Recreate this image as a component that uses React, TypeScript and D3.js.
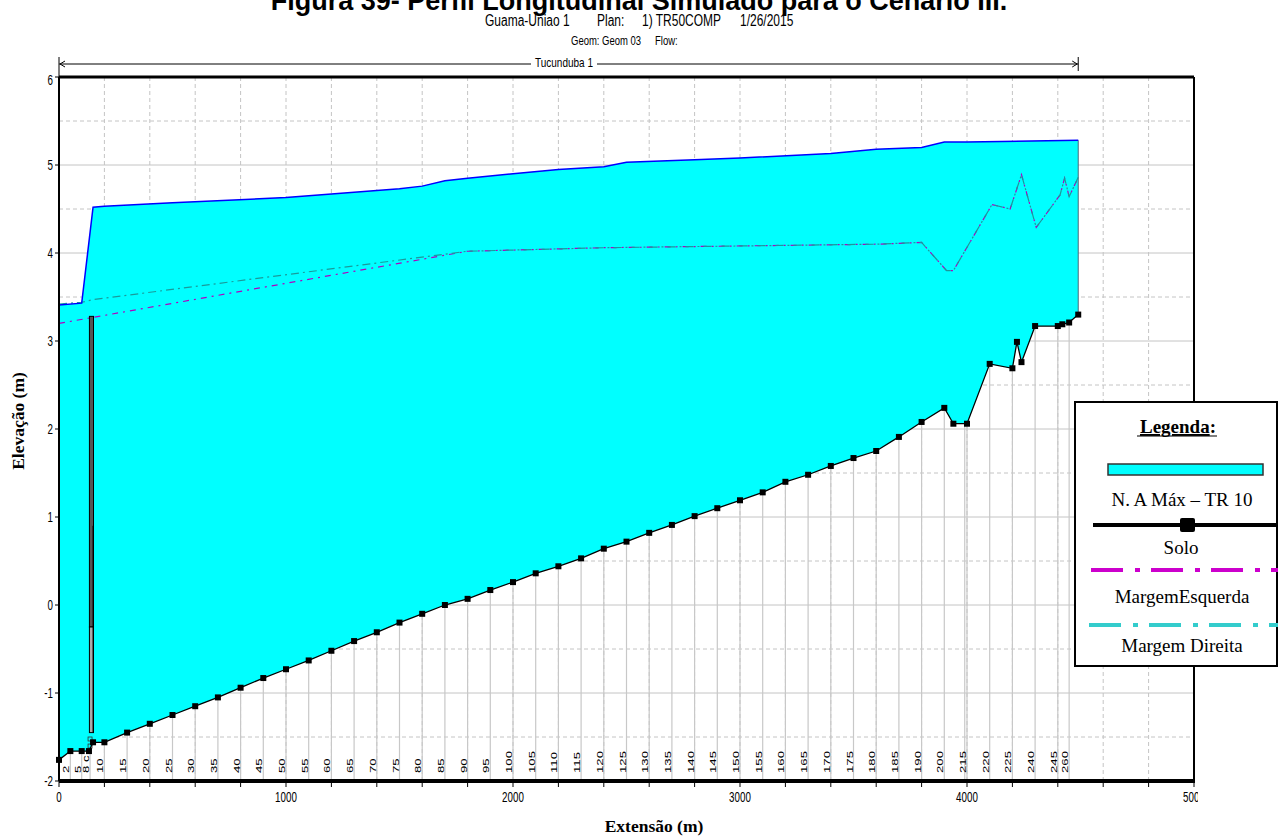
import React from 'react';
import * as d3 from 'd3';

// ground profile (Solo)
const groundDist = [0, 50, 100, 132, 150, 200, 300, 400, 500, 600, 700, 800, 900, 1000, 1100, 1200, 1300, 1400, 1500, 1600, 1700, 1800, 1900, 2000, 2100, 2200, 2300, 2400, 2500, 2600, 2700, 2800, 2900, 3000, 3100, 3200, 3300, 3400, 3500, 3600, 3700, 3800, 3900, 3940, 4000, 4100, 4200, 4220, 4240, 4300, 4400, 4420, 4450, 4490];
const groundElev = [-1.76, -1.66, -1.66, -1.66, -1.56, -1.56, -1.45, -1.35, -1.25, -1.15, -1.05, -0.94, -0.83, -0.73, -0.63, -0.52, -0.41, -0.31, -0.2, -0.1, 0.0, 0.07, 0.17, 0.26, 0.36, 0.44, 0.53, 0.64, 0.72, 0.82, 0.91, 1.01, 1.1, 1.19, 1.28, 1.4, 1.48, 1.58, 1.67, 1.75, 1.91, 2.08, 2.24, 2.06, 2.06, 2.74, 2.69, 2.99, 2.76, 3.17, 3.17, 3.19, 3.21, 3.3];

// water surface (N. A Máx - TR 10)
const wsDist = [0, 100, 150, 200, 500, 1000, 1500, 1600, 1700, 1800, 2000, 2200, 2400, 2500, 2800, 3000, 3400, 3600, 3800, 3900, 4000, 4490];
const wsElev = [3.41, 3.43, 4.52, 4.53, 4.57, 4.63, 4.73, 4.76, 4.82, 4.85, 4.9, 4.95, 4.98, 5.03, 5.06, 5.08, 5.13, 5.18, 5.2, 5.26, 5.26, 5.28];

// banks
const leftBankDist = [0, 1800, 2400, 3000, 3600, 3800, 3910, 3940, 4110, 4190, 4240, 4305, 4410, 4430, 4450, 4490];
const leftBankElev = [3.2, 4.02, 4.06, 4.08, 4.1, 4.12, 3.8, 3.8, 4.55, 4.5, 4.89, 4.29, 4.66, 4.85, 4.64, 4.86];
const rightBankDist = [0, 100, 150, 1800, 2400, 3000, 3600, 3800, 3910, 3940, 4110, 4190, 4240, 4305, 4410, 4430, 4450, 4490];
const rightBankElev = [3.42, 3.44, 3.47, 4.02, 4.06, 4.08, 4.1, 4.12, 3.8, 3.8, 4.55, 4.5, 4.89, 4.29, 4.66, 4.85, 4.64, 4.86];

// river stations
const stationDist = [0, 50, 100, 137, 200, 300, 400, 500, 600, 700, 800, 900, 1000, 1100, 1200, 1300, 1400, 1500, 1600, 1700, 1800, 1900, 2000, 2100, 2200, 2300, 2400, 2500, 2600, 2700, 2800, 2900, 3000, 3100, 3200, 3300, 3400, 3500, 3600, 3700, 3800, 3900, 3990, 4000, 4100, 4200, 4300, 4400, 4450];
const stationLabels = ['', '2', '5', '8 c', '10', '15', '20', '25', '30', '35', '40', '45', '50', '55', '60', '65', '70', '75', '80', '85', '90', '95', '100', '105', '110', '115', '120', '125', '130', '135', '140', '145', '150', '155', '160', '165', '170', '175', '180', '185', '190', '200', '', '215', '220', '225', '240', '245', '260'];

const xTicks = [0, 1000, 2000, 3000, 4000, 5000];
const yTicks = [-2, -1, 0, 1, 2, 3, 4, 5, 6];

const x = d3.scaleLinear().domain([0, 5000]).range([59, 1194]);
const y = d3.scaleLinear().domain([-2, 6]).range([781, 77]);

const narrow = 'Liberation Sans, Arial, sans-serif';
const serif = 'Liberation Serif, Times New Roman, serif';

const STxt = ({ x: tx, y: ty, size, sy = 1.4, anchor = 'start', children, weight = 'normal' }: any) => (
  <text
    transform={`translate(${tx},${ty}) scale(1,${sy})`}
    fontSize={size}
    fontFamily={narrow}
    fontWeight={weight}
    textAnchor={anchor}
    fill="#000"
  >
    {children}
  </text>
);

export default function App() {
  const line = d3.line<[number, number]>();
  const pts = (ds: number[], es: number[]) => ds.map((d, i) => [x(d), y(es[i])] as [number, number]);

  const wsPts = pts(wsDist, wsElev);
  const gPts = pts(groundDist, groundElev);
  const waterPath = line([...wsPts, ...gPts.slice().reverse()]) + 'Z';
  const groundAt = d3.scaleLinear().domain(groundDist).range(groundElev);

  const gridV = d3.range(200, 5000, 200);
  const gridH = d3.range(-1.5, 6, 0.5);
  const minorTicks = d3.range(0, 5001, 200);

  const lastWs = wsDist[wsDist.length - 1];

  return (
    <svg width={1278} height={836} style={{ position: 'absolute', left: 0, top: 0, background: '#fff' }}>
      <defs>
        <clipPath id="chartClip">
          <rect x={0} y={0} width={1198} height={836} />
        </clipPath>
      </defs>

      {/* document title, cut at the top as in the source page */}
      <text x={639} y={10} textAnchor="middle" fontFamily="Liberation Sans, Arial, sans-serif" fontWeight="bold" fontSize={27}>
        Figura 39- Perfil Longitudinal Simulado para o Cenário III.
      </text>

      <g clipPath="url(#chartClip)">
        {/* header */}
        <STxt x={485} y={26} size={12} sy={1.3}>Guama-Uniao 1</STxt>
        <STxt x={597} y={26} size={12} sy={1.3}>Plan:</STxt>
        <STxt x={642} y={26} size={12} sy={1.3}>1) TR50COMP</STxt>
        <STxt x={740} y={26} size={12} sy={1.3}>1/26/2015</STxt>
        <STxt x={571} y={45} size={9.5} sy={1.3}>Geom: Geom 03</STxt>
        <STxt x={655} y={45} size={9.5} sy={1.3}>Flow:</STxt>

        {/* reach arrow */}
        <g stroke="#000" strokeWidth={1} fill="none">
          <line x1={x(0)} x2={x(lastWs)} y1={64} y2={64} />
          <line x1={x(0)} x2={x(0)} y1={57} y2={77} />
          <line x1={x(lastWs)} x2={x(lastWs)} y1={57} y2={71} />
          <path d={`M${x(0) + 6},61 L${x(0) + 1},64 L${x(0) + 6},67`} />
          <path d={`M${x(lastWs) - 6},61 L${x(lastWs) - 1},64 L${x(lastWs) - 6},67`} />
        </g>
        <rect x={531} y={57} width={66} height={12} fill="#fff" />
        <STxt x={564} y={67} size={10} sy={1.3} anchor="middle">Tucunduba 1</STxt>

        {/* grid */}
        <g>
          {gridV.map((v) => (
            <line key={'gv' + v} x1={x(v)} x2={x(v)} y1={y(6)} y2={y(-2)} stroke="#c4c4c4" strokeDasharray="4,3" />
          ))}
          {gridH.map((v) => (
            <line
              key={'gh' + v}
              x1={x(0)}
              x2={x(5000)}
              y1={y(v)}
              y2={y(v)}
              stroke="#c4c4c4"
              strokeDasharray={Number.isInteger(v) ? undefined : '4,3'}
            />
          ))}
        </g>

        {/* station lines below ground */}
        <g stroke="#c8c8c8" strokeWidth={1.2}>
          {stationDist.map((d, i) => (
            <line key={'st' + i} x1={x(d)} x2={x(d)} y1={y(groundAt(d))} y2={y(-2)} />
          ))}
        </g>

        {/* water */}
        <path d={waterPath} fill="#00ffff" stroke="none" />
        <line x1={x(lastWs)} x2={x(lastWs)} y1={y(wsElev[wsElev.length - 1])} y2={y(groundElev[groundElev.length - 1])} stroke="#4a6a7a" strokeWidth={1} />

        {/* banks */}
        <path d={line(pts(leftBankDist, leftBankElev)) || ''} fill="none" stroke="#b000c0" strokeWidth={1.2} strokeDasharray="6,5,2,5" />
        <path d={line(pts(rightBankDist, rightBankElev)) || ''} fill="none" stroke="#199a9a" strokeWidth={1.2} strokeDasharray="8,4,2,4" />

        {/* water surface line */}
        <path d={line(wsPts) || ''} fill="none" stroke="#0000ff" strokeWidth={1.5} />

        {/* culvert at 8 */}
        <rect x={x(134)} y={y(3.28)} width={x(152) - x(134)} height={y(-0.25) - y(3.28)} fill="#555" stroke="#000" strokeWidth={1} />
        <rect x={x(134)} y={y(-0.25)} width={x(152) - x(134)} height={y(-1.45) - y(-0.25)} fill="#aaa" stroke="#000" strokeWidth={1} />
        <line x1={x(150)} x2={x(150)} y1={y(0.9)} y2={y(-1.45)} stroke="#000" strokeWidth={1} />
        <rect x={x(128)} y={y(-1.5)} width={4} height={4} fill="none" stroke="#333" strokeWidth={0.8} />
        <rect x={x(128)} y={y(-1.58)} width={4} height={4} fill="none" stroke="#333" strokeWidth={0.8} />

        {/* ground */}
        <path d={line(gPts) || ''} fill="none" stroke="#000" strokeWidth={1.3} />
        {gPts.map((p, i) => (
          <rect key={'gp' + i} x={p[0] - 3} y={p[1] - 3} width={6} height={6} fill="#000" />
        ))}

        {/* station labels */}
        {stationDist.map((d, i) =>
          stationLabels[i] ? (
            <text
              key={'sl' + i}
              transform={`translate(${x(d) - 1},773) rotate(-90) scale(1.55,1)`}
              fontSize={8.5}
              fontFamily={narrow}
              fill="#000"
            >
              {stationLabels[i]}
            </text>
          ) : null
        )}

        {/* frame */}
        <line x1={x(0)} x2={x(5000)} y1={y(6)} y2={y(6)} stroke="#000" strokeWidth={3} />
        <line x1={x(0)} x2={x(5000) + 1} y1={y(-2)} y2={y(-2)} stroke="#000" strokeWidth={4} />
        <line x1={x(0)} x2={x(0)} y1={y(6)} y2={y(-2)} stroke="#000" strokeWidth={2} />
        <line x1={x(5000)} x2={x(5000)} y1={y(6)} y2={y(-2)} stroke="#000" strokeWidth={2} />

        {/* ticks */}
        {minorTicks.map((v) => (
          <line key={'xt' + v} x1={x(v)} x2={x(v)} y1={y(-2)} y2={y(-2) + 6} stroke="#000" />
        ))}
        {yTicks.map((v) => (
          <line key={'yt' + v} x1={x(0) - 4} x2={x(0)} y1={y(v)} y2={y(v)} stroke="#000" />
        ))}
        {xTicks.map((v) => (
          <STxt key={'xl' + v} x={x(v)} y={802} size={9.8} sy={1.43} anchor="middle">{v}</STxt>
        ))}
        {yTicks.map((v) => (
          <STxt key={'yl' + v} x={53} y={Math.min(790, Math.max(85, y(v) + 5))} size={9.8} sy={1.43} anchor="end">{v}</STxt>
        ))}
      </g>

      {/* axis titles */}
      <text x={654} y={832} textAnchor="middle" fontFamily={serif} fontWeight="bold" fontSize={17.5}>Extensão (m)</text>
      <text transform="translate(24,421) rotate(-90)" textAnchor="middle" fontFamily={serif} fontWeight="bold" fontSize={17.5}>Elevação (m)</text>

      {/* legend */}
      <rect x={1075} y={402} width={202} height={264} fill="#fff" stroke="#000" strokeWidth={2} />
      <text x={1178} y={433} textAnchor="middle" fontFamily={serif} fontSize={19} fontWeight="bold">
        <tspan textDecoration="underline">Legenda</tspan>:
      </text>
      <line x1={1137} x2={1217} y1={436} y2={436} stroke="#000" strokeWidth={1.2} />
      <rect x={1108} y={464} width={155} height={11} fill="#00ffff" stroke="#333" strokeWidth={1.5} />
      <text x={1182} y={506} textAnchor="middle" fontFamily={serif} fontSize={19}>N. A Máx – TR 10</text>
      <line x1={1093} x2={1278} y1={525} y2={525} stroke="#000" strokeWidth={4} />
      <rect x={1180} y={518} width={15} height={14} rx={2} fill="#000" />
      <text x={1181} y={554} textAnchor="middle" fontFamily={serif} fontSize={19}>Solo</text>
      <line x1={1091} x2={1278} y1={570} y2={570} stroke="#cc00cc" strokeWidth={4} strokeDasharray="32,12,5,11" />
      <text x={1182} y={603} textAnchor="middle" fontFamily={serif} fontSize={19}>MargemEsquerda</text>
      <line x1={1089} x2={1278} y1={625} y2={625} stroke="#33cccc" strokeWidth={4} strokeDasharray="32,12,5,11" />
      <text x={1182} y={652} textAnchor="middle" fontFamily={serif} fontSize={19}>Margem Direita</text>
    </svg>
  );
}
